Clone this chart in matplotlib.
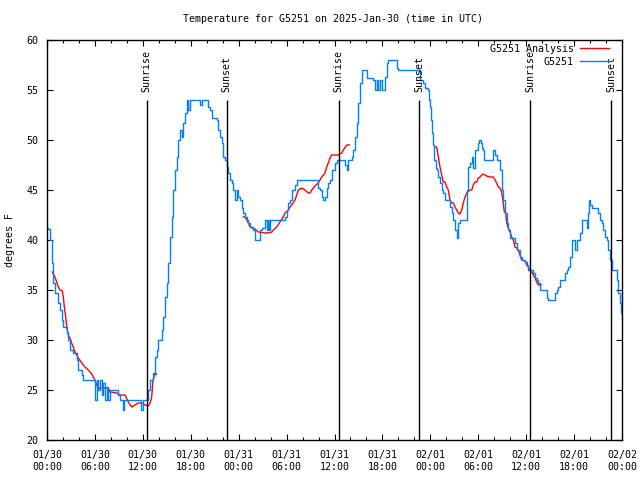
import numpy as np
import matplotlib
matplotlib.use("Agg")
import matplotlib.pyplot as plt

# ---------------- data (hours since 2025-01-30 00:00 UTC, degrees F) ----------------
obs_hours = [0.0, 0.16, 0.38, 0.59, 0.79, 1.0, 1.41, 1.63, 1.84, 2.04, 2.47, 2.67, 2.88, 3.29, 3.72, 3.92,
             4.35, 4.55, 5.80, 6.01, 6.22, 6.42, 6.64, 6.85, 7.05, 7.26, 7.48, 7.68, 7.89, 8.73, 8.93,
             9.14, 9.52, 9.64, 11.77, 11.83, 12.02, 12.4, 12.68, 12.9, 13.31, 13.52, 13.74, 13.94, 14.36,
             14.56, 14.78, 14.99, 15.19, 15.4, 15.61, 15.82, 16.03, 16.24, 16.44, 16.65, 16.87, 17.07,
             17.28, 17.49, 17.69, 17.91, 18.95, 19.16, 19.37, 20.0, 20.2, 20.41, 20.62, 21.25, 21.45,
             21.66, 21.88, 22.08, 22.29, 22.58, 22.7, 22.92, 23.13, 23.33, 23.54, 23.75, 23.95, 24.17,
             24.38, 24.58, 24.79, 25.01, 25.21, 25.42, 25.83, 26.05, 26.46, 26.67, 26.88, 27.3, 27.49,
             27.67, 27.8, 27.92, 29.59, 29.8, 30.02, 30.22, 30.43, 30.64, 31.05, 31.27, 33.77, 33.97,
             34.18, 34.4, 34.6, 34.81, 35.02, 35.22, 35.44, 35.65, 36.06, 36.28, 37.1, 37.31, 37.53,
             37.73, 38.15, 38.35, 38.57, 38.78, 38.98, 39.19, 39.41, 39.82, 40.03, 40.86, 41.08, 41.29,
             41.49, 41.7, 41.92, 42.12, 42.33, 42.54, 42.74, 43.58, 43.79, 43.99, 46.29, 46.49, 46.71,
             47.12, 47.33, 47.67, 47.83, 47.96, 48.08, 48.25, 48.37, 48.5, 48.67, 48.8, 49.0, 49.21,
             49.42, 49.62, 49.84, 50.25, 50.46, 50.68, 50.88, 51.09, 51.3, 51.5, 51.72, 52.34, 52.55,
             52.75, 52.97, 53.18, 53.38, 53.59, 53.81, 54.01, 54.13, 54.31, 54.43, 54.63, 54.76, 55.76,
             55.89, 56.1, 56.31, 56.72, 57.01, 57.14, 57.35, 57.56, 57.76, 57.98, 58.39, 58.6, 58.82,
             59.02, 59.23, 59.44, 59.85, 60.07, 60.27, 60.69, 60.89, 61.11, 61.32, 61.52, 61.73, 62.36,
             62.57, 62.77, 63.4, 63.61, 63.82, 64.03, 64.24, 64.65, 64.86, 65.08, 65.28, 65.49, 65.7,
             65.9, 66.12, 66.33, 66.53, 66.74, 66.95, 67.37, 67.58, 67.71, 67.87, 68.0, 68.21, 68.62,
             69.03, 69.25, 69.46, 69.66, 69.87, 70.09, 70.29, 70.5, 70.72, 71.13, 71.34, 71.54, 71.75,
             71.88, 72.0]
obs_temps = [41.2, 41.1, 40, 37.7, 35.7, 34.7, 33.7, 33, 32, 31.3, 30.7, 30, 29, 28.7, 28, 27,
             26.5, 26, 26, 24, 26, 25, 26, 24.5, 25.7, 24, 25.3, 24, 25, 25, 24.5,
             24, 23, 24, 24, 23, 24, 24, 25, 26, 26.7, 28.3, 29, 30, 31,
             32.3, 34.3, 35.7, 37.7, 40.3, 42.3, 45, 47, 48.3, 50, 51, 50.3, 51.7,
             52.7, 54, 53, 54, 54, 53.5, 54, 54, 53.3, 53, 52.2, 52, 51,
             50.3, 49.7, 48.3, 48, 47.3, 46.7, 46, 45.7, 45, 44, 45, 44.3, 44,
             43.2, 42.7, 42.3, 42, 41.7, 41.3, 41, 40, 40, 41, 41.2, 42, 41,
             42, 41, 42, 42, 42.3, 43, 43.7, 44, 45, 45.5, 46, 46, 45.2,
             45, 44.3, 44, 44.3, 45.2, 45.7, 46, 47, 47.7, 48, 48, 47.5, 47,
             48, 48.3, 49, 50.3, 51.7, 53.7, 55.7, 57, 57, 56.2, 56, 55, 56,
             55, 56, 55, 55, 56.3, 57.7, 58, 58, 57.2, 57, 57, 57, 56,
             55.7, 55.2, 55, 54, 53.3, 52, 50.7, 49.5, 48, 47.2, 47, 46.3, 45.7,
             45, 44.7, 44, 44, 43.3, 42.7, 42, 41, 40.2, 41.7, 42, 42, 45,
             47.3, 47.7, 48.3, 47.2, 49, 49, 49.7, 50, 49.7, 49.2, 49, 48, 48,
             49, 48.5, 48, 47, 45, 44, 42.7, 41.7, 41, 40.2, 40.2, 39.7, 39,
             39, 38.3, 38, 37.8, 37.5, 37, 37, 36.7, 36.2, 36, 35.7, 35, 35,
             34.2, 34, 34, 34.7, 35, 35.3, 36, 36, 36.7, 37, 37.3, 38.3, 40,
             40, 39, 40, 40, 40.7, 42, 42, 41.2, 42.7, 44, 43.5, 43.2, 43.2,
             42.7, 42, 41.7, 41, 40.3, 40, 39, 38, 37, 37, 36, 34.7, 33.7,
             32.7, 32]

ana1_hours = [0.66, 1.0, 1.21, 1.41, 1.63, 1.92, 2.04, 2.17, 2.34, 2.47, 2.67, 2.88, 3.09, 3.29, 3.51,
              3.92, 4.35, 4.76, 5.17, 5.6, 5.8, 6.01, 6.22, 6.42, 7.68, 7.89, 8.73, 9.14, 9.77, 10.18,
              10.61, 11.02, 11.43, 11.86, 12.27, 12.68, 12.9, 13.11, 13.24, 13.44, 13.74]
ana1_temps = [36.8, 36.3, 35.8, 35.3, 35, 34.9, 34.3, 33.3, 32.3, 31.3, 30.5, 30.2, 29.7, 29.3, 28.8,
              28.2, 27.7, 27.3, 27, 26.6, 26.3, 26, 25.5, 25.2, 25.2, 24.8, 24.7, 24.5, 24.5, 23.8,
              23.3, 23.5, 23.7, 23.7, 23.5, 23.4, 23.7, 24.3, 25.7, 26.5, 26.6]
ana2_hours = [24.58, 24.79, 25.01, 25.21, 25.42, 25.63, 26.05, 26.46, 27.3, 27.71, 28.14, 28.34, 28.76,
              29.17, 29.59, 29.8, 30.22, 30.43, 30.64, 31.05, 31.27, 31.47, 31.89, 32.31, 32.72, 32.93,
              33.15, 33.56, 33.97, 34.18, 34.4, 34.81, 35.02, 35.22, 35.44, 35.65, 36.48, 36.9, 37.1,
              37.53, 37.85]
ana2_temps = [42.3, 42.3, 42, 41.7, 41.3, 41.2, 41.1, 40.8, 40.7, 40.7, 40.8, 41, 41.3,
              41.8, 42.3, 42.7, 43, 43.3, 43.5, 44, 44.5, 45, 45.2, 45, 44.7, 44.7,
              45, 45.4, 45.7, 46, 46.3, 46.7, 47.3, 47.7, 48.2, 48.5, 48.5, 48.7, 49,
              49.5, 49.5]
ana3_hours = [48.59, 48.8, 49.0, 49.21, 49.42, 49.62, 49.84, 50.05, 50.25, 50.46, 50.68, 50.88, 51.09,
              51.3, 51.5, 51.72, 51.93, 52.13, 52.34, 52.55, 52.97, 53.18, 53.38, 53.59, 53.81, 54.01,
              54.22, 54.43, 54.63, 54.84, 55.05, 55.47, 55.89, 56.1, 56.31, 56.51, 56.72, 56.93, 57.14,
              57.26, 57.44, 57.56, 57.76, 57.98, 58.19, 58.39, 58.6, 58.82, 59.02, 59.23, 59.44, 59.85,
              60.07, 60.27, 60.48, 60.69, 60.89, 61.11, 61.32, 61.52, 61.86]
ana3_temps = [49.3, 49.3, 48.3, 47.3, 46.5, 45.8, 45.8, 45.3, 45, 44, 43.7, 43.7, 43.3,
              43, 42.7, 42.6, 43, 43.7, 44.3, 44.7, 45, 45, 45.5, 45.8, 45.8, 46.2,
              46.3, 46.5, 46.6, 46.5, 46.4, 46.3, 46.3, 46, 45.7, 45.3, 45.2, 44.8, 43.7,
              42.8, 42.7, 41.7, 41.2, 40.8, 40.3, 40, 39.3, 39.2, 39, 38.5, 38, 37.9,
              37.5, 37.3, 36.9, 36.8, 36.5, 36.2, 35.8, 35.5, 35.5]

sun_hours = [12.47, 22.5, 36.53, 46.58, 60.5, 70.67]
sun_labels = ["Sunrise", "Sunset", "Sunrise", "Sunset", "Sunrise", "Sunset"]

xtick_hours = [0, 6, 12, 18, 24, 30, 36, 42, 48, 54, 60, 66, 72]
xtick_labels = ["01/30\n00:00", "01/30\n06:00", "01/30\n12:00", "01/30\n18:00",
                "01/31\n00:00", "01/31\n06:00", "01/31\n12:00", "01/31\n18:00",
                "02/01\n00:00", "02/01\n06:00", "02/01\n12:00", "02/01\n18:00",
                "02/02\n00:00"]
ytick_values = [20, 25, 30, 35, 40, 45, 50, 55, 60]

title_text = "Temperature for G5251 on 2025-Jan-30 (time in UTC)"

# ---------------- drawing ----------------
FS = 7.2
plt.rcParams['font.family'] = ['DejaVu Sans Mono']
plt.rcParams['font.size'] = FS

fig = plt.figure(figsize=(6.4, 4.8), dpi=100)
ax = fig.add_axes([47 / 640, 40 / 480, 575 / 640, 400 / 480])

RED = "#ff0000"
BLUE = "#0080ff"

ax.plot(ana1_hours, ana1_temps, color=RED, lw=1.0, label="G5251 Analysis")
ax.plot(ana2_hours, ana2_temps, color=RED, lw=1.0)
ax.plot(ana3_hours, ana3_temps, color=RED, lw=1.0)
ax.plot(obs_hours, obs_temps, color=BLUE, lw=1.0, drawstyle="steps-post", label="G5251")

for h, lab in zip(sun_hours, sun_labels):
    ax.vlines(h, 20, 54, color="black", lw=1.0)
    ax.text(h, 54.8, lab, rotation=90, ha="center", va="bottom", fontsize=FS)

ax.set_xlim(0, 72)
ax.set_ylim(20, 60)
ax.set_xticks(xtick_hours)
ax.set_xticklabels(xtick_labels, linespacing=1.3)
ax.set_xticks(np.arange(0, 72.1, 2), minor=True)
ax.set_yticks(ytick_values)
ax.set_yticklabels([str(v) for v in ytick_values])

ax.tick_params(which="both", direction="in", top=True, right=True, width=0.8, colors="black")
ax.tick_params(which="major", length=4.5)
ax.tick_params(which="minor", length=2.5)
ax.tick_params(axis="x", which="major", pad=7)
ax.tick_params(axis="y", which="major", pad=6)
for sp in ax.spines.values():
    sp.set_linewidth(1.0)

fig.text(333 / 640, 1 - 19 / 480, title_text, ha="center", va="center", fontsize=FS)
fig.text(10 / 640, 0.5, "degrees F", rotation=90, ha="center", va="center", fontsize=FS)

leg = ax.legend(loc="upper right", bbox_to_anchor=(1 - 13 / 575, 1 - 4 / 400), frameon=False,
                markerfirst=False, handlelength=2.9, handletextpad=0.6, labelspacing=0.3,
                borderpad=0, borderaxespad=0, fontsize=FS)
for t in leg.get_texts():
    t.set_ha("right")

fig.savefig("out.png", dpi=100)
